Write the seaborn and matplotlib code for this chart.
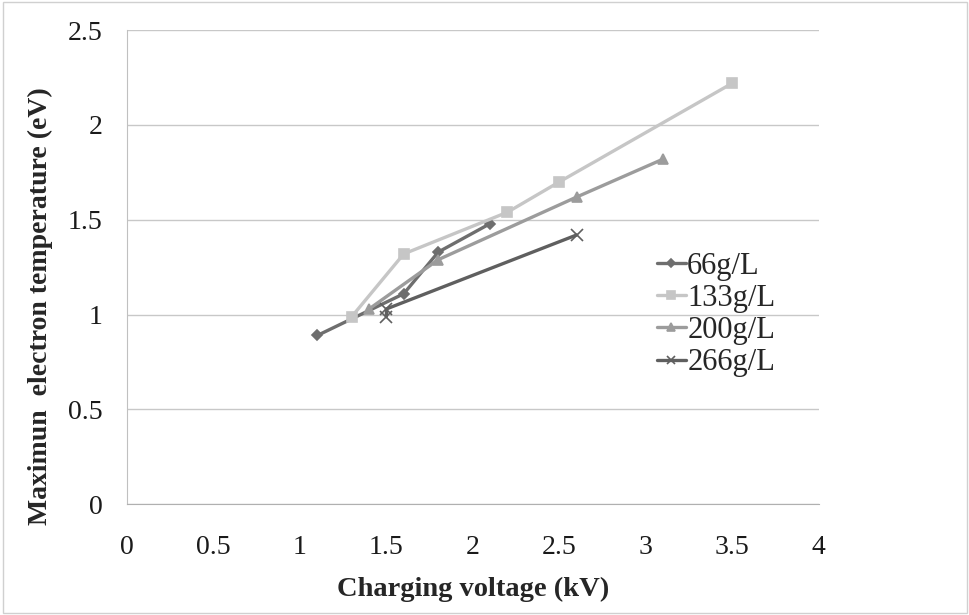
import matplotlib
matplotlib.use("Agg")
import matplotlib.pyplot as plt
import seaborn as sns
import pandas as pd

series_names = ["66g/L", "133g/L", "200g/L", "266g/L"]
x_66 = [1.1, 1.6, 1.8, 2.1]
y_66 = [0.89, 1.11, 1.33, 1.48]
x_133 = [1.3, 1.6, 2.2, 2.5, 3.5]
y_133 = [0.99, 1.32, 1.54, 1.70, 2.22]
x_200 = [1.4, 1.8, 2.6, 3.1]
y_200 = [1.03, 1.29, 1.62, 1.82]
x_266 = [1.5, 1.5, 2.6]
y_266 = [0.99, 1.03, 1.42]

xs = [x_66, x_133, x_200, x_266]
ys = [y_66, y_133, y_200, y_266]
rows = []
for name, xv, yv in zip(series_names, xs, ys):
    for i, (a, b) in enumerate(zip(xv, yv)):
        rows.append({"series": name, "x": a, "y": b, "order": i})
df = pd.DataFrame(rows)

sns.set_style("white")
plt.rcParams["font.family"] = ["Liberation Serif", "DejaVu Serif"]

fig = plt.figure(figsize=(9.7, 6.15), dpi=100)
ax = fig.add_axes([0.131, 0.180, 0.713, 0.771])

palette = {"66g/L": "#6e6e6e", "133g/L": "#c6c6c6", "200g/L": "#9c9c9c", "266g/L": "#5f5f5f"}
markers = {"66g/L": "D", "133g/L": "s", "200g/L": "^", "266g/L": "x"}
sizes_m = {"66g/L": 5, "133g/L": 7, "200g/L": 7, "266g/L": 8}

for name in series_names:
    sub = df[df.series == name]
    sns.lineplot(data=sub, x="x", y="y", color=palette[name], marker=markers[name],
                 markersize=sizes_m[name], markeredgecolor=palette[name],
                 markeredgewidth=1.2, linewidth=2.4, sort=False, estimator=None,
                 label=name, ax=ax)

ax.set_xlim(0, 4)
ax.set_ylim(0, 2.5)
ax.set_xticks([0, 0.5, 1, 1.5, 2, 2.5, 3, 3.5, 4])
ax.set_xticklabels(["0", "0.5", "1", "1.5", "2", "2.5", "3", "3.5", "4"])
ax.set_yticks([0, 0.5, 1, 1.5, 2, 2.5])
ax.set_yticklabels(["0", "0.5", "1", "1.5", "2", "2.5"])
ax.tick_params(axis="both", labelsize=20, labelcolor="#1a1a1a", color="#b8b8b8", width=1)
ax.tick_params(axis="x", direction="in", length=4, pad=22)
ax.tick_params(axis="y", direction="out", length=4.5, pad=13)
ax.grid(axis="y", color="#c8c8c8", linewidth=1)
ax.set_axisbelow(True)
for s in ["top", "right"]:
    ax.spines[s].set_visible(False)
ax.spines["left"].set_color("#c0c0c0")
ax.spines["bottom"].set_color("#b0b0b0")

ax.set_xlabel("Charging voltage (kV)", fontsize=20.5, fontweight="bold", labelpad=12)
ax.set_ylabel("Maximun  electron temperature (eV)", fontsize=20, fontweight="bold")
ax.yaxis.set_label_coords(-0.107, 0.418)

leg = ax.legend(loc="center left", bbox_to_anchor=(0.726, 0.40), frameon=False,
                fontsize=22, handlelength=0.95, handletextpad=0.05, labelspacing=0.1,
                markerscale=0.8)

border = plt.Rectangle((0.003, 0.003), 0.994, 0.994, transform=fig.transFigure,
                       fill=False, edgecolor="#d0d0d0", linewidth=1)
fig.patches.append(border)

fig.savefig("out.png", dpi=100)
